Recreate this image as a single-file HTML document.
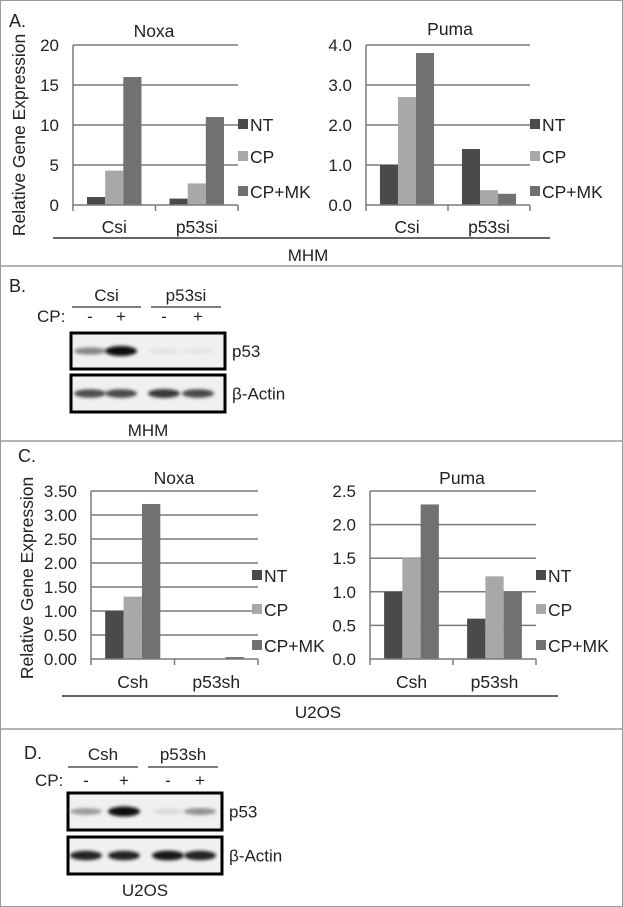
<!DOCTYPE html>
<html><head><meta charset="utf-8"><style>
html,body{margin:0;padding:0;background:#fff}
svg{display:block;font-family:"Liberation Sans",Arial,sans-serif}
</style></head><body>
<svg id="fig" width="623" height="907" viewBox="0 0 623 907" xmlns="http://www.w3.org/2000/svg">
<defs>
<filter id="blur" x="-30%" y="-100%" width="160%" height="300%"><feGaussianBlur stdDeviation="1.6"/></filter>
</defs>
<rect x="0.5" y="0.5" width="622" height="906" fill="#fff" stroke="#9a9a9a"/>
<line x1="0" y1="266" x2="623" y2="266" stroke="#9a9a9a" stroke-width="1.5"/>
<line x1="0" y1="441" x2="623" y2="441" stroke="#9a9a9a" stroke-width="1.5"/>
<line x1="0" y1="729" x2="623" y2="729" stroke="#9a9a9a" stroke-width="1.5"/>

<g font-size="18" fill="#222">
<text x="9" y="27">A.</text>
<text x="9" y="292">B.</text>
<text x="18" y="462">C.</text>
<text x="24" y="759">D.</text>
</g>
<g font-size="17.5" fill="#222" text-anchor="middle">
<text transform="translate(25,135) rotate(-90)">Relative Gene Expression</text>
<text transform="translate(33,578) rotate(-90)">Relative Gene Expression</text>
</g>
<g stroke="#333" stroke-width="1.5">
<line x1="53" y1="238" x2="550" y2="238"/>
<line x1="62" y1="696" x2="558" y2="696"/>
</g>
<g font-size="17" fill="#222" text-anchor="middle">
<text x="308" y="261">MHM</text>
<text x="318" y="718">U2OS</text>
</g>
<g id="charts"></g>
<g id="blots"></g>
</svg>
<script>
// ---- data ----
const groupsA = ["Csi", "p53si"];
const groupsC = ["Csh", "p53sh"];
const seriesNames = ["NT", "CP", "CP+MK"];
const noxaA_NT = [1.0, 0.8];
const noxaA_CP = [4.3, 2.7];
const noxaA_CPMK = [16.0, 11.0];
const noxaA_ticks = ["0", "5", "10", "15", "20"];
const pumaA_NT = [1.0, 1.4];
const pumaA_CP = [2.7, 0.37];
const pumaA_CPMK = [3.8, 0.28];
const pumaA_ticks = ["0.0", "1.0", "2.0", "3.0", "4.0"];
const noxaC_NT = [1.0, 0.01];
const noxaC_CP = [1.3, 0.01];
const noxaC_CPMK = [3.23, 0.04];
const noxaC_ticks = ["0.00", "0.50", "1.00", "1.50", "2.00", "2.50", "3.00", "3.50"];
const pumaC_NT = [1.0, 0.6];
const pumaC_CP = [1.5, 1.23];
const pumaC_CPMK = [2.3, 1.0];
const pumaC_ticks = ["0.0", "0.5", "1.0", "1.5", "2.0", "2.5"];

const NS = "http://www.w3.org/2000/svg";
const colors = ["#4a4a4a", "#a8a8a8", "#717171"];
function mk(tag, attrs, parent) {
  const e = document.createElementNS(NS, tag);
  for (const k in attrs) e.setAttribute(k, attrs[k]);
  parent.appendChild(e);
  return e;
}
const chartsG = document.getElementById("charts");

function drawChart(cfg) {
  const g = mk("g", {}, chartsG);
  
  
  const ticks = cfg.ticks.map(Number);
  const vmax = ticks[ticks.length - 1];
  const y = v => cfg.y0 - (v / vmax) * (cfg.y0 - cfg.yTop);
  const catW = (cfg.x1 - cfg.x0) / cfg.groups.length;
  const x = i => cfg.x0 + catW * i;
  cfg.ticks.forEach((t, i) => {
    const yy = y(Number(t));
    if (i > 0) {
      const gl = mk("line", {x1: cfg.x0, x2: cfg.x1, y1: yy, y2: yy, stroke: "#7a7a7a", "stroke-width": 1.5}, g);
      
      
    }
    const tl = mk("text", {x: cfg.x0 - 14, y: yy + 6, "text-anchor": "end", "font-size": 17, fill: "#222"}, g);
    tl.textContent = t;
    
    
  });
  const series = [cfg.nt, cfg.cp, cfg.cpmk];
  const bw = catW * 0.22;
  cfg.groups.forEach((grp, gi) => {
    const start = x(gi) + catW * 0.17;
    series.forEach((s, si) => {
      const v = s[gi];
      const r = mk("rect", {x: start + si * bw, y: y(v), width: bw, height: cfg.y0 - y(v), fill: colors[si]}, g);
      
      
    });
    const cl = mk("text", {x: x(gi) + catW / 2, y: cfg.catY, "text-anchor": "middle", "font-size": 17.5, fill: "#222"}, g);
    cl.textContent = grp;
    
    
  });
  const ax = mk("path", {d: `M${cfg.x0},${cfg.yTop} V${cfg.y0} H${cfg.x1}`, fill: "none", stroke: "#7a7a7a", "stroke-width": 1.5}, g);
  
  
  for (let i = 0; i <= cfg.groups.length; i++) {
    const tk = mk("line", {x1: x(i), x2: x(i), y1: cfg.y0, y2: cfg.y0 + 6, stroke: "#7a7a7a", "stroke-width": 1.5}, g);
    
    
  }
  const tt = mk("text", {x: cfg.titleX, y: cfg.titleY, "text-anchor": "middle", "font-size": 17.5, fill: "#222"}, g);
  tt.textContent = cfg.title;
  
  
  seriesNames.forEach((n, i) => {
    const ly = cfg.legY[i];
    const sw = mk("rect", {x: cfg.legX, y: ly - 6, width: 10, height: 10, fill: colors[i]}, g);
    
    
    const lt = mk("text", {x: cfg.legX + 12, y: ly + 6, "font-size": 17.5, fill: "#222"}, g);
    lt.textContent = n;
    
    
  });
}

drawChart({name: "chart-noxa-mhm", title: "Noxa", titleX: 154, titleY: 37, groups: groupsA, ticks: noxaA_ticks,
  nt: noxaA_NT, cp: noxaA_CP, cpmk: noxaA_CPMK, x0: 73, x1: 238, y0: 205, yTop: 45, catY: 233,
  legX: 238, legY: [125, 157, 192]});
drawChart({name: "chart-puma-mhm", title: "Puma", titleX: 450, titleY: 35, groups: groupsA, ticks: pumaA_ticks,
  nt: pumaA_NT, cp: pumaA_CP, cpmk: pumaA_CPMK, x0: 366, x1: 530, y0: 205, yTop: 45, catY: 233,
  legX: 530, legY: [125, 157, 192]});
drawChart({name: "chart-noxa-u2os", title: "Noxa", titleX: 174, titleY: 484, groups: groupsC, ticks: noxaC_ticks,
  nt: noxaC_NT, cp: noxaC_CP, cpmk: noxaC_CPMK, x0: 91, x1: 258, y0: 659, yTop: 491, catY: 688,
  legX: 252, legY: [576, 610, 646]});
drawChart({name: "chart-puma-u2os", title: "Puma", titleX: 462, titleY: 484, groups: groupsC, ticks: pumaC_ticks,
  nt: pumaC_NT, cp: pumaC_CP, cpmk: pumaC_CPMK, x0: 370, x1: 536, y0: 659, yTop: 491, catY: 688,
  legX: 536, legY: [576, 610, 646]});

// ---- blots ----
const p53B = [0.45, 1.0, 0.04, 0.03];
const actinB = [0.7, 0.72, 0.8, 0.72];
const p53D = [0.35, 1.0, 0.08, 0.4];
const actinD = [0.9, 0.9, 0.95, 0.9];
const blotsG = document.getElementById("blots");

function drawBlot(cfg) {
  const g = mk("g", {}, blotsG);
  
  
  cfg.groups.forEach((gr, i) => {
    const t = mk("text", {x: (cfg.lines[i][0] + cfg.lines[i][1]) / 2, y: cfg.gy, "text-anchor": "middle", "font-size": 17, fill: "#222"}, g);
    t.textContent = gr;
    
    
    const l = mk("line", {x1: cfg.lines[i][0], x2: cfg.lines[i][1], y1: cfg.ly, y2: cfg.ly, stroke: "#333", "stroke-width": 1.3}, g);
    
    
  });
  const cp = mk("text", {x: cfg.cpX, y: cfg.cpY, "font-size": 17, fill: "#222"}, g);
  cp.textContent = "CP:";
  
  
  ["-", "+", "-", "+"].forEach((s, i) => {
    const t = mk("text", {x: cfg.lanes[i], y: cfg.cpY, "text-anchor": "middle", "font-size": 17, fill: "#222"}, g);
    t.textContent = s;
    
    
  });
  [[cfg.p53Box, cfg.p53, "p53", "p53-blot"], [cfg.actBox, cfg.actin, "β-Actin", "actin-blot"]].forEach(([box, vals, lab, nm]) => {
    const r = mk("rect", {x: cfg.bx0, y: box[0], width: cfg.bx1 - cfg.bx0, height: box[1] - box[0], fill: "#f0f0f0", stroke: "#000", "stroke-width": 3}, g);
    
    
    const cy = (box[0] + box[1]) / 2;
    vals.forEach((v, i) => {
      const c = Math.round(235 - 225 * v);
      const e = mk("ellipse", {cx: cfg.lanes[i], cy: cy, rx: 16, ry: 2.5 + 2.5 * v, fill: `rgb(${c},${c},${c})`, filter: "url(#blur)"}, g);
      
      
    });
    const t = mk("text", {x: cfg.bx1 + 7, y: cy + 6, "font-size": 17, fill: "#222"}, g);
    t.textContent = lab;
    
    
  });
  const cl = mk("text", {x: (cfg.bx0 + cfg.bx1) / 2, y: cfg.cellY, "text-anchor": "middle", "font-size": 17, fill: "#222"}, g);
  cl.textContent = cfg.cell;
  
  
}

drawBlot({name: "blot-mhm", groups: ["Csi", "p53si"], lines: [[72, 141], [151, 221]], gy: 301, ly: 307,
  cpX: 37, cpY: 322, lanes: [90, 121, 164, 198], bx0: 71, bx1: 225, p53Box: [333, 369], actBox: [375, 412],
  p53: p53B, actin: actinB, cell: "MHM", cellY: 436});
drawBlot({name: "blot-u2os", groups: ["Csh", "p53sh"], lines: [[68, 138], [148, 218]], gy: 760, ly: 767,
  cpX: 35, cpY: 786, lanes: [86, 124, 168, 200], bx0: 68, bx1: 222, p53Box: [793, 830], actBox: [837, 874],
  p53: p53D, actin: actinD, cell: "U2OS", cellY: 896});
</script>
</body></html>
